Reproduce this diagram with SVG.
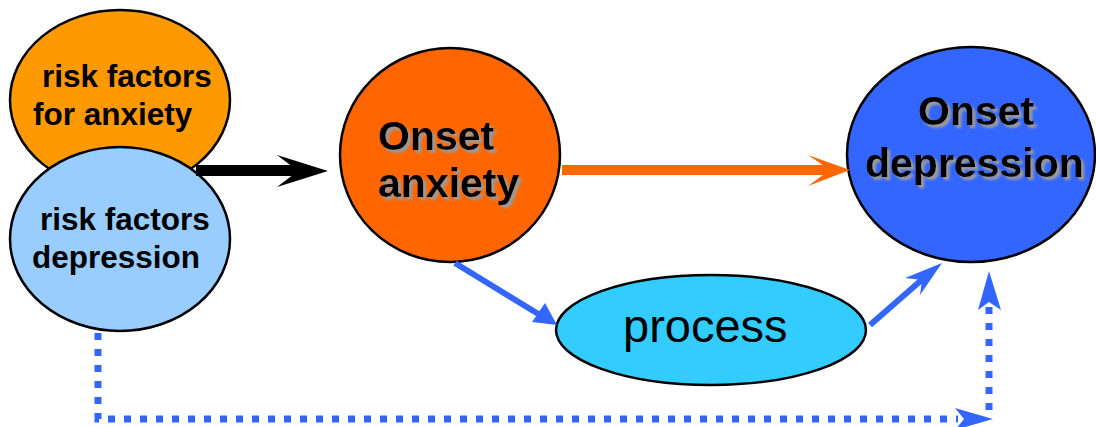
<svg xmlns="http://www.w3.org/2000/svg" width="1096" height="427" viewBox="0 0 1096 427">
<style>
.node{stroke:#000;stroke-width:2.5}
.t{font-family:"Liberation Sans",Arial,sans-serif;font-weight:bold;fill:#000}
.risk{font-size:31.5px}
.onset{font-size:41px}
.proc{font-family:"Liberation Sans",Arial,sans-serif;font-size:47px;fill:#000}
.blue{fill:#3366FF}
.dot{fill:none;stroke:#3366FF;stroke-width:7;stroke-dasharray:7 9}
</style>
<defs>
<filter id="sh" x="-10%" y="-20%" width="130%" height="150%">
<feGaussianBlur in="SourceAlpha" stdDeviation="1.3" result="b"/>
<feOffset in="b" dx="3" dy="3" result="o"/>
<feFlood flood-color="#9a9a9a" result="c"/>
<feComposite in="c" in2="o" operator="in" result="s"/>
<feMerge><feMergeNode in="s"/><feMergeNode in="SourceGraphic"/></feMerge>
</filter>
</defs>
<rect width="1096" height="427" fill="#fff"/>
<g id="risk-anxiety">
<ellipse class="node" cx="120" cy="100" rx="110" ry="90" fill="#FF9900"/>
<text class="t risk" x="42" y="87">risk factors</text>
<text class="t risk" x="33" y="125">for anxiety</text>
</g>
<g id="risk-depression">
<ellipse class="node" cx="120" cy="239" rx="110" ry="92" fill="#99CCFF"/>
<text class="t risk" x="40" y="230">risk factors</text>
<text class="t risk" x="32" y="268">depression</text>
</g>
<g id="onset-anxiety">
<ellipse class="node" cx="450" cy="155" rx="110" ry="107" fill="#FF6600"/>
<g filter="url(#sh)">
<text class="t onset" x="378" y="150">Onset</text>
<text class="t onset" x="378" y="197">anxiety</text>
</g>
</g>
<g id="onset-depression">
<ellipse class="node" cx="971" cy="154.5" rx="124" ry="107.5" fill="#3366FF"/>
<g filter="url(#sh)">
<text class="t onset" x="918" y="125">Onset</text>
<text class="t onset" x="865" y="177">depression</text>
</g>
</g>
<g id="process">
<ellipse class="node" cx="711" cy="330" rx="155" ry="55" fill="#33CCFF"/>
<text class="proc" x="623" y="342">process</text>
</g>
<g id="connectors">
<rect x="196" y="165" width="104" height="11" fill="#000"/>
<polygon points="328,171 277,155 298,171 277,187" fill="#000"/>
<rect x="562" y="165" width="270" height="10" fill="#FF6600"/>
<polygon points="850,170 808,155 830,170 808,186" fill="#FF6600"/>
<line x1="455" y1="263" x2="540" y2="315" stroke="#3366FF" stroke-width="6"/>
<polygon class="blue" points="557,325 532,322 545,303"/>
<line x1="870" y1="325" x2="925" y2="277" stroke="#3366FF" stroke-width="6"/>
<polygon class="blue" points="942,263 905,278 922,280 920,295"/>
<path class="dot" d="M98,333 V419 H958"/>
<polygon class="blue" points="993,419 955,408 964,419 955,430"/>
<path class="dot" d="M989,410 V300"/>
<polygon class="blue" points="989,271 978,310 989,302 1001,310"/>
</g>
</svg>
